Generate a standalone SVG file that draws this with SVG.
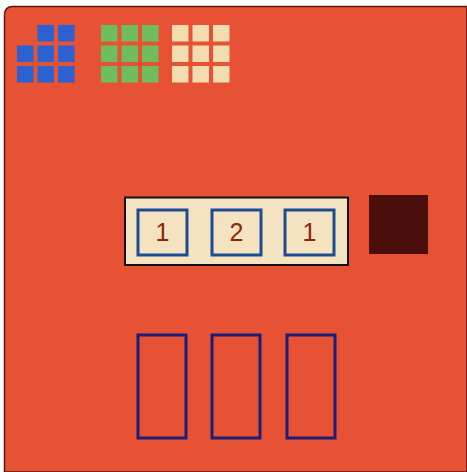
<svg xmlns="http://www.w3.org/2000/svg" width="467" height="472" viewBox="0 0 467 472">
<style>
.b{fill:#2B62CF}
.g{fill:#6FBD5F}
.c{fill:#F3DCB0}
.slot{fill:none;stroke:#1E4C93;stroke-width:3}
.col{fill:none;stroke:#1A1E78;stroke-width:3}
.num{font-family:"Liberation Sans",Arial,sans-serif;font-size:25px;fill:#8E2312;text-anchor:middle}
</style>
<rect x="0" y="0" width="467" height="472" fill="#ffffff"/>
<path d="M4.5,472 V15 Q4.5,6.5 13,6.5 H467 V472 Z" fill="#E65233" stroke="#5A1A12" stroke-width="1.5"/>
<g id="blue-grid">
<rect class="b" x="37.5" y="25" width="16.5" height="16.5"/><rect class="b" x="58" y="25" width="16.5" height="16.5"/>
<rect class="b" x="17" y="45.5" width="16.5" height="16.5"/><rect class="b" x="37.5" y="45.5" width="16.5" height="16.5"/><rect class="b" x="58" y="45.5" width="16.5" height="16.5"/>
<rect class="b" x="17" y="66" width="16.5" height="16.5"/><rect class="b" x="37.5" y="66" width="16.5" height="16.5"/><rect class="b" x="58" y="66" width="16.5" height="16.5"/>
</g>
<g id="green-grid">
<rect class="g" x="101" y="25" width="16.5" height="16.5"/><rect class="g" x="121.5" y="25" width="16.5" height="16.5"/><rect class="g" x="142" y="25" width="16.5" height="16.5"/>
<rect class="g" x="101" y="45.5" width="16.5" height="16.5"/><rect class="g" x="121.5" y="45.5" width="16.5" height="16.5"/><rect class="g" x="142" y="45.5" width="16.5" height="16.5"/>
<rect class="g" x="101" y="66" width="16.5" height="16.5"/><rect class="g" x="121.5" y="66" width="16.5" height="16.5"/><rect class="g" x="142" y="66" width="16.5" height="16.5"/>
</g>
<g id="cream-grid">
<rect class="c" x="172" y="25" width="16.5" height="16.5"/><rect class="c" x="192.5" y="25" width="16.5" height="16.5"/><rect class="c" x="213" y="25" width="16.5" height="16.5"/>
<rect class="c" x="172" y="45.5" width="16.5" height="16.5"/><rect class="c" x="192.5" y="45.5" width="16.5" height="16.5"/><rect class="c" x="213" y="45.5" width="16.5" height="16.5"/>
<rect class="c" x="172" y="66" width="16.5" height="16.5"/><rect class="c" x="192.5" y="66" width="16.5" height="16.5"/><rect class="c" x="213" y="66" width="16.5" height="16.5"/>
</g>
<g id="tray">
<rect x="125" y="197.5" width="223" height="67.5" fill="#F3E3C0" stroke="#111" stroke-width="2"/>
<rect class="slot" x="138" y="210" width="49" height="45"/>
<rect class="slot" x="212" y="210" width="49" height="45"/>
<rect class="slot" x="285" y="210" width="49" height="45"/>
<text class="num" x="162.5" y="241">1</text>
<text class="num" x="236.5" y="241">2</text>
<text class="num" x="309.5" y="241">1</text>
</g>
<g id="dark-square">
<rect x="369" y="195" width="59" height="59" fill="#4A0E0B"/>
</g>
<g id="columns">
<rect class="col" x="138" y="335" width="48" height="103"/>
<rect class="col" x="212" y="335" width="48" height="103"/>
<rect class="col" x="287" y="335" width="48" height="103"/>
</g>
<g id="connectors"/>
</svg>
